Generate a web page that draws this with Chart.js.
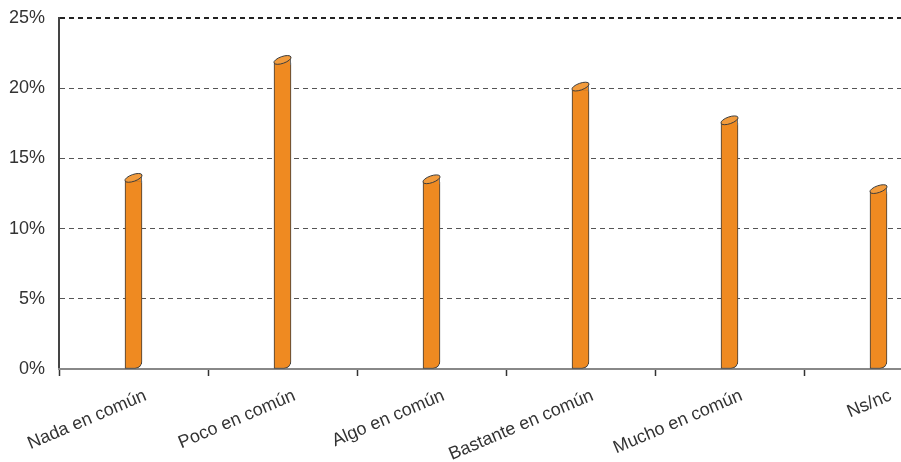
<!DOCTYPE html>
<html>
<head>
<meta charset="utf-8">
<script src="https://cdn.jsdelivr.net/npm/chart.js@4/dist/chart.umd.min.js"></script>
<style>
  html, body { margin: 0; padding: 0; background: #fff; overflow: hidden; }
  #wrap { width: 953px; height: 462px; }
</style>
</head>
<body>
<div id="wrap"><canvas id="id_chart"></canvas></div>
<script>
// categorias y valores (%)
var labels = ['Nada en común', 'Poco en común', 'Algo en común', 'Bastante en común', 'Mucho en común', 'Ns/nc'];
var values = [13.4, 21.8, 13.3, 19.9, 17.5, 12.6];
var yTicks = [0, 5, 10, 15, 20, 25];

var ORANGE = '#EF8A21';
var EDGE = '#3d3d3d';

// tapa superior del cilindro
var capPlugin = {
    id: 'cap',
    afterDatasetsDraw: function(chart){
        var ctx = chart.ctx;
        var meta = chart.getDatasetMeta(0);
        meta.data.forEach(function(bar){
            var w = bar.width, x0 = bar.x - w/2, x1 = bar.x + w/2, y = bar.y;
            var rise = 6;
            ctx.save();
            ctx.fillStyle = ORANGE;
            ctx.beginPath();
            ctx.moveTo(x0 + 0.5, y + 1);
            ctx.lineTo(x0 + 0.5, y);
            ctx.lineTo(x1 - 0.5, y - rise);
            ctx.lineTo(x1 - 0.5, y + 1);
            ctx.closePath();
            ctx.fill();
            ctx.strokeStyle = '#6a6a6a';
            ctx.lineWidth = 1;
            ctx.beginPath();
            ctx.moveTo(x1 - 0.5, y - rise);
            ctx.lineTo(x1 - 0.5, y + 2);
            ctx.stroke();
            // elipse
            ctx.beginPath();
            ctx.ellipse((x0 + x1)/2, y - rise/2, Math.sqrt(w*w + rise*rise)/2, 3.4, -Math.atan2(rise, w), 0, Math.PI*2);
            ctx.fillStyle = '#F29B3C';
            ctx.fill();
            ctx.strokeStyle = EDGE;
            ctx.stroke();
            ctx.restore();
        });
    }
};

var ctx = document.getElementById('id_chart').getContext('2d');
var myChart = new Chart(ctx, {
    type: 'bar',
    data: {
        labels: labels,
        datasets: [{
            data: values,
            backgroundColor: ORANGE,
            borderColor: EDGE,
            borderWidth: 1,
            borderSkipped: false,
            borderRadius: { topLeft: 0, topRight: 0, bottomLeft: 0, bottomRight: 7 },
            barThickness: 17
        }]
    },
    options: {
        responsive: true,
        maintainAspectRatio: false,
        animation: false,
        layout: { padding: { top: 18, right: 0, left: 0, bottom: 0 } },
        plugins: { legend: { display: false }, tooltip: { enabled: false } },
        scales: {
            y: {
                min: 0, max: 25,
                afterFit: function(s){ s.width = 59; s.paddingTop = 0; s.paddingBottom = 0; },
                afterBuildTicks: function(s){ s.ticks = yTicks.map(function(v){ return { value: v }; }); },
                ticks: {
                    padding: 14,
                    color: '#333',
                    font: { family: 'Liberation Sans', size: 18 },
                    callback: function(v){ return v + '%'; }
                },
                grid: {
                    drawTicks: false,
                    color: function(c){
                        if (c.tick.value === 0) return 'rgba(0,0,0,0)';
                        return c.tick.value === 25 ? '#222' : '#555';
                    },
                    lineWidth: function(c){ return c.tick.value === 25 ? 2 : 1; }
                },
                border: { color: '#444', width: 2, dash: [5, 4] }
            },
            x: {
                afterFit: function(s){ s.height = 93; },
                ticks: {
                    minRotation: 23, maxRotation: 23,
                    color: '#333',
                    font: { family: 'Liberation Sans', size: 18 },
                    labelOffset: 12,
                    padding: 9
                },
                grid: {
                    drawOnChartArea: false,
                    drawTicks: true,
                    tickLength: 7,
                    tickColor: '#333',
                    tickWidth: 1.5
                },
                border: { color: '#888', width: 2 }
            }
        }
    },
    plugins: [capPlugin]
});
</script>
</body>
</html>
